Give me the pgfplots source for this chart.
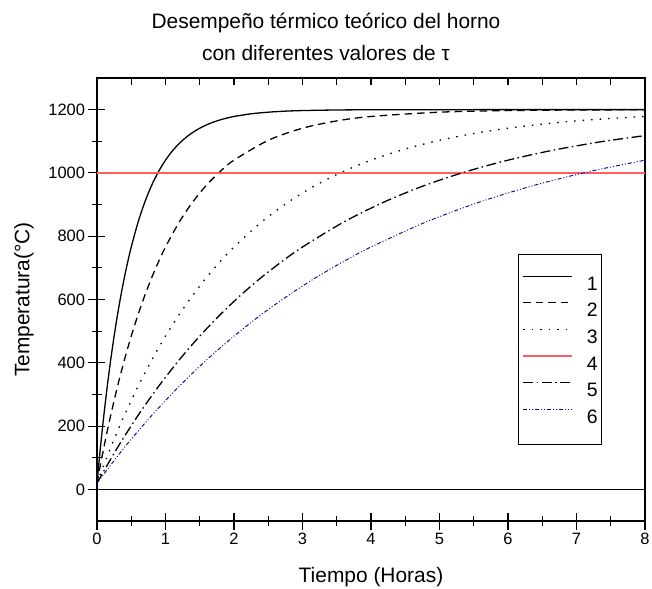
\documentclass[border=0pt]{standalone}
\usepackage{fontspec}
\setmainfont{Liberation Sans}
\usepackage{pgfplots}
\pgfplotsset{compat=1.18}
\definecolor{lred}{RGB}{255,95,95}
\definecolor{dblue}{RGB}{0,0,140}
\begin{document}
\begin{tikzpicture}
\begin{axis}[
  scale only axis, width=548bp, height=443bp,
  xmin=0, xmax=8, ymin=-100, ymax=1300,
  xtick={0,...,8}, ytick={0,200,...,1200},
  minor x tick num=1, minor y tick num=1,
  xtick pos=bottom, ytick pos=left,
  tick align=center,
  major tick length=17bp, minor tick length=10bp,
  tick style={black, line width=1.1bp},
  axis line style={line width=1.2bp},
  /pgf/number format/assume math mode=true,
  /pgf/number format/1000 sep={},
  ticklabel style={font=\fontsize{16.5}{18}\selectfont},
  xlabel={Tiempo (Horas)},
  ylabel={Temperatura(°C)},
  label style={font=\fontsize{21}{24}\selectfont},
  xlabel style={at={(axis description cs:0.5,-0.1377)}, anchor=base},
  ylabel style={at={(axis description cs:-0.1332,0.5)}, anchor=center},
  legend cell align=left,
  legend image code/.code={\draw[#1] (0bp,7bp) -- (49bp,7bp);},
  legend style={at={(0.7682,0.6027)}, anchor=north west, draw=black, line width=1bp,
    font=\fontsize{19.5}{22}\selectfont,
    nodes={inner sep=0pt, text height=14bp, text depth=0bp},
    row sep=12bp, column sep=14bp, inner xsep=4bp, inner ysep=21bp},
]
\addplot[black, line width=1.3bp, smooth] coordinates {
(0,20) (0.05,132.3) (0.1,233.9) (0.15,325.8) (0.2,409.0) (0.25,484.3) (0.3,552.4)
(0.35,614.0) (0.4,669.8) (0.45,720.2) (0.5,765.9) (0.6,844.6) (0.7,909.0) (0.8,961.8)
(0.9,1004.9) (1.0,1040.3) (1.1,1069.3) (1.2,1093.0) (1.3,1112.4) (1.4,1128.2)
(1.5,1141.3) (1.6,1151.9) (1.7,1160.6) (1.8,1167.8) (1.9,1173.6) (2.0,1178.4)
(2.25,1186.9) (2.5,1192.0) (2.75,1195.2) (3.0,1197.1) (3.5,1198.9) (4.0,1199.6)
(5.0,1199.9) (6.0,1200) (7.0,1200) (8.0,1200)};
\addlegendentry{1}
\addplot[black, line width=1.3bp, dash pattern=on 7.5bp off 5bp, smooth] coordinates {
(0,20) (0.05,77.5) (0.1,132.3) (0.15,184.4) (0.2,233.9) (0.3,325.8) (0.4,409.0)
(0.5,484.3) (0.6,552.4) (0.7,614.0) (0.8,669.8) (0.9,720.2) (1.0,765.9) (1.2,844.6)
(1.4,909.0) (1.6,961.8) (1.8,1004.9) (2.0,1040.3) (2.5,1103.1) (3.0,1141.3)
(3.5,1164.4) (4.0,1178.4) (5.0,1192.0) (6.0,1197.1) (7.0,1198.9) (8.0,1199.6)};
\addlegendentry{2}
\addplot[black, line width=1.3bp, dash pattern=on 1.5bp off 7bp, smooth] coordinates {
(0,20) (0.1,77.5) (0.2,132.3) (0.3,184.4) (0.4,233.9) (0.6,325.8) (0.8,409.0)
(1.0,484.3) (1.2,552.4) (1.4,614.0) (1.6,669.8) (1.8,720.2) (2.0,765.9) (2.4,844.6)
(2.8,909.0) (3.2,961.8) (3.6,1004.9) (4.0,1040.3) (4.5,1075.6) (5.0,1103.1)
(5.5,1124.6) (6.0,1141.3) (6.5,1154.2) (7.0,1164.4) (7.5,1172.2) (8.0,1178.4)};
\addlegendentry{3}
\addplot[lred, line width=1.3bp] coordinates {(0,1000) (8,1000)};
\addlegendentry{4}
\addplot[black, line width=1.3bp, dash pattern=on 10bp off 3.5bp on 1.5bp off 3.5bp, smooth] coordinates {
(0,20) (0.3,132.3) (0.6,233.9) (0.9,325.8) (1.2,409.0) (1.5,484.3) (1.8,552.4)
(2.1,614.0) (2.4,669.8) (2.7,720.2) (3.0,765.9) (3.6,844.6) (4.2,909.0) (4.8,961.8)
(5.4,1004.9) (6.0,1040.3) (6.6,1069.3) (7.2,1093.0) (7.5,1103.1) (8.0,1118.0)};
\addlegendentry{5}
\addplot[dblue, line width=0.9bp, dash pattern=on 4bp off 2bp on 1bp off 2bp on 1bp off 2bp, smooth] coordinates {
(0,20) (0.4,132.3) (0.8,233.9) (1.2,325.8) (1.6,409.0) (2.0,484.3) (2.4,552.4)
(2.8,614.0) (3.2,669.8) (3.6,720.2) (4.0,765.9) (4.8,844.6) (5.6,909.0) (6.4,961.8)
(7.2,1004.9) (8.0,1040.3)};
\addlegendentry{6}
\addplot[black, line width=1.2bp, forget plot] coordinates {(0,0) (8,0)};
\end{axis}
\begin{axis}[
  scale only axis, width=548bp, height=443bp,
  xmin=0, xmax=8, ymin=-100, ymax=1300,
  axis line style={draw=none},
  xtick={0,0.5,...,8}, xtick pos=top, xticklabels={},
  ytick=\empty,
  tick align=inside, major tick length=7bp,
  tick style={black, line width=1.1bp},
]
\end{axis}
\node[anchor=base, font=\fontsize{21}{24}\selectfont] at (229bp,492bp) {Desempeño térmico teórico del horno};
\node[anchor=base, font=\fontsize{21}{24}\selectfont] at (229bp,460bp) {con diferentes valores de τ};
\pgfresetboundingbox
\path (-97bp,-68bp) rectangle (555bp,521bp);
\end{tikzpicture}
\end{document}
